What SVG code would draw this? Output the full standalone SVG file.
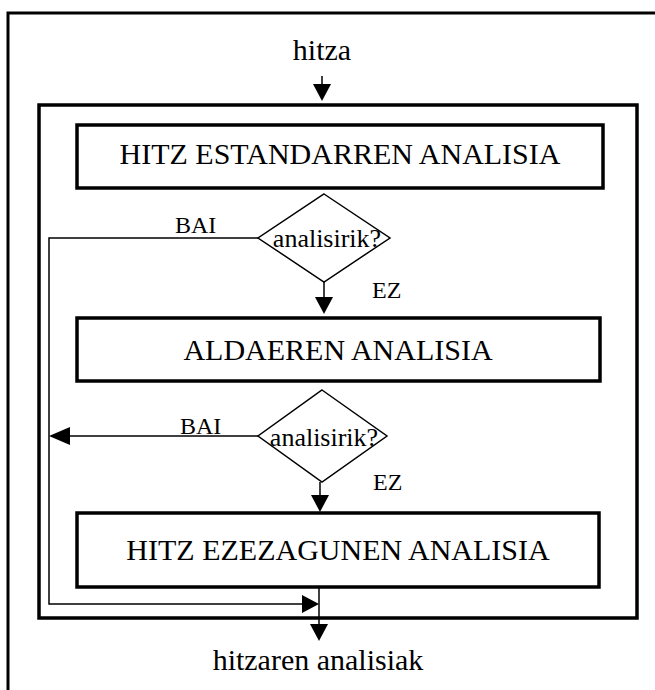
<svg xmlns="http://www.w3.org/2000/svg" width="655" height="690" viewBox="0 0 655 690">
  <style>
    .frame { fill: none; stroke: #000; stroke-width: 3; }
    .box { fill: #fff; stroke: #000; stroke-width: 3.5; }
    .dia { fill: #fff; stroke: #000; stroke-width: 1.5; }
    .wire { fill: none; stroke: #000; stroke-width: 1.5; }
    .head { fill: #000; stroke: none; }
    .big { font-family: "Liberation Serif", "Times New Roman", serif; font-size: 30px; fill: #000; text-anchor: middle; }
    .lbl { font-family: "Liberation Serif", "Times New Roman", serif; font-size: 24px; fill: #000; }
    .q { font-family: "Liberation Serif", "Times New Roman", serif; font-size: 26px; fill: #000; text-anchor: middle; }
  </style>

  <!-- page frame (open on the right and bottom) -->
  <path class="frame" d="M655 13 H8 V690"/>

  <!-- outer process box -->
  <rect id="process" class="frame" x="39" y="105" width="598" height="513" style="stroke-width:3.5"/>

  <!-- connectors -->
  <g id="connectors">
    <!-- input -->
    <line class="wire" x1="322" y1="76" x2="322" y2="86"/>
    <polygon class="head" points="313,84 331,84 322,101"/>
    <!-- decision 1 -> box 2 -->
    <line class="wire" x1="324" y1="282" x2="324" y2="299"/>
    <polygon class="head" points="315,297 333,297 324,314"/>
    <!-- decision 1 BAI branch (feedback rail) -->
    <polyline class="wire" points="258,238 49,238 49,604 305,604"/>
    <polygon class="head" points="302,595 302,613 319,604"/>
    <!-- decision 2 -> box 3 -->
    <line class="wire" x1="320" y1="482" x2="320" y2="497"/>
    <polygon class="head" points="311,495 329,495 320,512"/>
    <!-- decision 2 BAI branch -->
    <line class="wire" x1="258" y1="436" x2="66" y2="436"/>
    <polygon class="head" points="70,427 70,445 49,436"/>
    <!-- output -->
    <line class="wire" x1="319" y1="587" x2="319" y2="627"/>
    <polygon class="head" points="310,624 328,624 319,641"/>
  </g>

  <g id="input">
    <text class="big" x="322" y="60">hitza</text>
  </g>

  <g id="standard">
    <rect class="box" x="77" y="125" width="526" height="63"/>
    <text class="big" x="340" y="164">HITZ ESTANDARREN ANALISIA</text>
  </g>

  <g id="check1">
    <polygon class="dia" points="324,194 390,238 324,282 258,238"/>
    <text class="q" x="327" y="247">analisirik?</text>
    <text class="lbl" x="175" y="233">BAI</text>
    <text class="lbl" x="372" y="298">EZ</text>
  </g>

  <g id="variant">
    <rect class="box" x="77" y="318" width="523" height="63"/>
    <text class="big" x="338" y="360">ALDAEREN ANALISIA</text>
  </g>

  <g id="check2">
    <polygon class="dia" points="322,390 387,436 322,482 258,436"/>
    <text class="q" x="324" y="446">analisirik?</text>
    <text class="lbl" x="180" y="434">BAI</text>
    <text class="lbl" x="373" y="490">EZ</text>
  </g>

  <g id="unknown">
    <rect class="box" x="77" y="513" width="522" height="74"/>
    <text class="big" x="338" y="560">HITZ EZEZAGUNEN ANALISIA</text>
  </g>

  <g id="output">
    <text class="big" x="318" y="670">hitzaren analisiak</text>
  </g>
</svg>
